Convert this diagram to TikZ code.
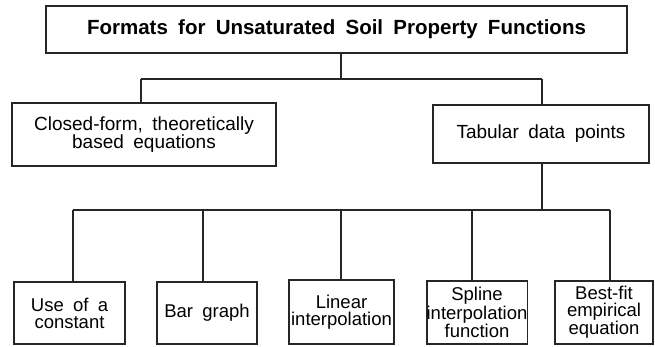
\documentclass[tikz,border=0pt]{standalone}
\usepackage{fontspec}
\setmainfont{Liberation Sans}[WordSpace=1.8]
\begin{document}
\begin{tikzpicture}[x=1pt,y=-1pt,
  box/.style={draw=black!85,line width=1.8pt,inner sep=0pt,align=center,
    font=\fontsize{19}{18}\selectfont},
  small/.style={font=\fontsize{18.5}{17}\selectfont},
  conn/.style={draw=black!85,line width=1.8pt}]
\useasboundingbox (0,0) rectangle (655,346);
\node[box,minimum width=581pt,minimum height=47pt,font=\bfseries\fontsize{20.5}{20}\selectfont] (top) at (336.5,29.5) {Formats for Unsaturated Soil Property Functions};
\node[box,minimum width=264pt,minimum height=63pt] (closed) at (144,134.5) {Closed-form, theoretically\\ based equations};
\node[box,minimum width=216pt,minimum height=58pt] (tab) at (541,134) {Tabular data points};
\node[box,small,minimum width=111pt,minimum height=62pt] (b1) at (69.5,313) {Use of a\\constant};
\node[box,small,minimum width=100pt,minimum height=62pt] (b2) at (207,313) {Bar graph};
\node[box,small,minimum width=105pt,minimum height=64pt] (b3) at (341.5,312) {Linear\\interpolation};
\node[box,small,minimum width=100pt,minimum height=63pt] (b4) at (477,312.5) {Spline\\interpolation\\function};
\node[box,small,minimum width=98pt,minimum height=63pt] (b5) at (604,312.5) {Best-fit\\empirical\\equation};
% upper tree
\coordinate (t0) at (341,53);
\coordinate (h0) at (341,79);
\coordinate (hl) at (141,79);
\coordinate (hr) at (542,79);
\draw[conn] (t0) -- (h0);
\draw[conn] (hl) -- (hr);
\draw[conn] (hl) -- (hl |- closed.north);
\draw[conn] (hr) -- (hr |- tab.north);
% lower tree
\coordinate (k0) at (542,210);
\coordinate (k1) at (73,210);
\coordinate (k2) at (203,210);
\coordinate (k3) at (341,210);
\coordinate (k4) at (472,210);
\coordinate (k5) at (610,210);
\draw[conn] (k0 |- tab.south) -- (k0);
\draw[conn] (k1) -- (k5);
\draw[conn] (k1) -- (k1 |- b1.north);
\draw[conn] (k2) -- (k2 |- b2.north);
\draw[conn] (k3) -- (k3 |- b3.north);
\draw[conn] (k4) -- (k4 |- b4.north);
\draw[conn] (k5) -- (k5 |- b5.north);
\end{tikzpicture}
\end{document}
